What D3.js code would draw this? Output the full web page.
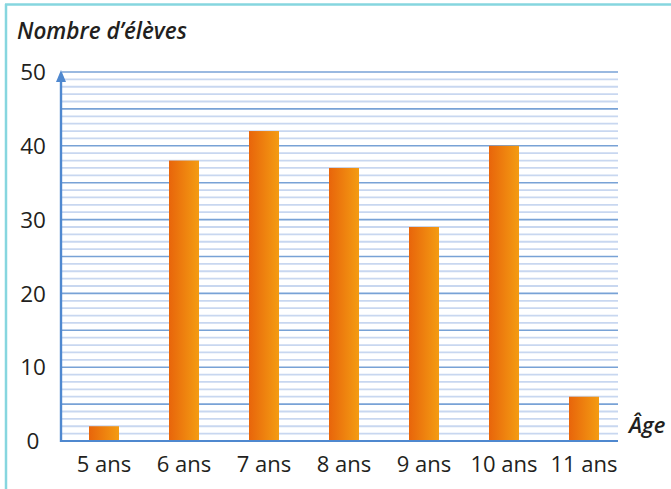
<!DOCTYPE html>
<html>
<head>
<meta charset="utf-8">
<script src="https://cdn.jsdelivr.net/npm/d3@7"></script>
<style>
  body { margin: 0; background: #fff; }
  svg text { font-family: "Open Sans", "Noto Sans", sans-serif; fill: #231f20; }
</style>
</head>
<body>
<svg id="svg1"></svg>
<script>
const ages = ["5 ans", "6 ans", "7 ans", "8 ans", "9 ans", "10 ans", "11 ans"];
const eleves = [2, 38, 42, 37, 29, 40, 6];
const yTicks = [0, 10, 20, 30, 40, 50];

const W = 671, H = 489;
const plotLeft = 61, plotRight = 618;
const y0 = 441, yTop = 72;

const svg = d3.select("#svg1")
    .attr("width", W)
    .attr("height", H);

// frame (top + left)
svg.append("line").attr("x1", 5).attr("x2", W).attr("y1", 4.5).attr("y2", 4.5)
    .attr("stroke", "#86d6df").attr("stroke-width", 2.5);
svg.append("line").attr("x1", 6).attr("x2", 6).attr("y1", 4).attr("y2", H)
    .attr("stroke", "#86d6df").attr("stroke-width", 2.5);

const yScale = d3.scaleLinear()
    .domain([0, 50])
    .range([y0, yTop]);

const xScale = d3.scaleBand()
    .domain(ages)
    .range([64, 624])
    .paddingInner(0.625)
    .paddingOuter(0.3125);

const defs = svg.append("defs");
const grad = defs.append("linearGradient")
    .attr("id", "barGrad")
    .attr("x1", "0%").attr("x2", "100%").attr("y1", "0%").attr("y2", "0%");
grad.append("stop").attr("offset", "0%").attr("stop-color", "#e8650b");
grad.append("stop").attr("offset", "100%").attr("stop-color", "#f49c12");

// grid lines, one per unit, darker every 5
const units = d3.range(1, 51);
svg.append("g")
    .selectAll("line")
    .data(units)
    .enter().append("line")
    .attr("x1", plotLeft + 1)
    .attr("x2", plotRight)
    .attr("y1", d => yScale(d))
    .attr("y2", d => yScale(d))
    .attr("stroke", d => d % 5 === 0 ? "#78a2d6" : "#c8d7f0")
    .attr("stroke-width", d => d % 5 === 0 ? 1.6 : 1.8);

// bars
svg.append("g")
    .selectAll("rect")
    .data(eleves)
    .enter().append("rect")
    .attr("x", (d, i) => xScale(ages[i]))
    .attr("y", d => yScale(d))
    .attr("width", xScale.bandwidth())
    .attr("height", d => y0 - yScale(d))
    .attr("fill", "url(#barGrad)");

// x axis line
svg.append("line")
    .attr("x1", plotLeft - 1).attr("x2", plotRight)
    .attr("y1", y0).attr("y2", y0)
    .attr("stroke", "#4f88cf").attr("stroke-width", 2);

// y axis with arrow
svg.append("line")
    .attr("x1", plotLeft).attr("x2", plotLeft)
    .attr("y1", y0 + 1).attr("y2", yTop + 8)
    .attr("stroke", "#4f88cf").attr("stroke-width", 2.4);
svg.append("path")
    .attr("d", `M${plotLeft},${yTop - 2} L${plotLeft - 5},${yTop + 10} L${plotLeft + 5},${yTop + 10} Z`)
    .attr("fill", "#4f88cf");

// y tick labels
svg.append("g")
    .selectAll("text")
    .data(yTicks)
    .enter().append("text")
    .attr("x", 33)
    .attr("y", d => yScale(d))
    .attr("dy", "0.36em")
    .attr("text-anchor", "middle")
    .attr("font-size", 22.5)
    .text(d => d);

// x labels
svg.append("g")
    .selectAll("text")
    .data(ages)
    .enter().append("text")
    .attr("x", d => xScale(d) + xScale.bandwidth() / 2)
    .attr("y", 472)
    .attr("text-anchor", "middle")
    .attr("font-size", 22)
    .text(d => d);

// axis titles
svg.append("text")
    .attr("x", 17).attr("y", 39)
    .attr("font-size", 22.5)
    .attr("font-weight", 600)
    .attr("font-style", "italic")
    .text("Nombre d’élèves");

svg.append("text")
    .attr("x", 629).attr("y", 433)
    .attr("font-size", 22)
    .attr("font-weight", 600)
    .attr("font-style", "italic")
    .text("Âge");
</script>
</body>
</html>
